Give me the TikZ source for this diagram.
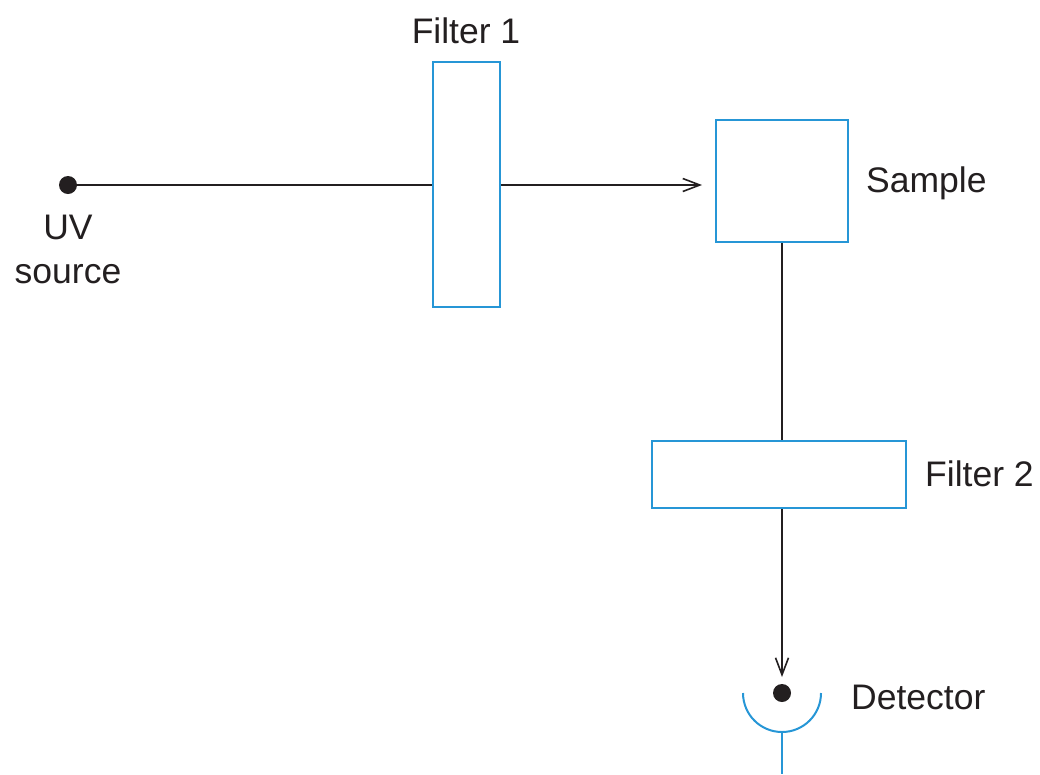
\documentclass[tikz,border=0pt]{standalone}
\usepackage{fontspec}
\setmainfont{Liberation Sans}
\usetikzlibrary{arrows.meta}
\definecolor{optblue}{RGB}{38,150,214}
\definecolor{ink}{RGB}{35,31,32}
\tikzset{
  beam/.style={draw=ink, line width=1.8pt},
  ray/.style={beam, -{Straight Barb[length=17pt,width=13pt,line width=1.6pt]}},
  optic/.style={draw=optblue, line width=2pt, fill=white, inner sep=0pt, rectangle},
  point/.style={circle, fill=ink, minimum size=18pt, inner sep=0pt},
  lbl/.style={inner sep=0pt, text=ink, font=\fontsize{35.5}{44}\selectfont}
}
\begin{document}
\begin{tikzpicture}[x=1pt,y=-1pt]
  \useasboundingbox (0,0) rectangle (1040,774);

  % light source and detector points
  \node[point] (src) at (68,185) {};
  \node[point] (det) at (782,693) {};

  % sample cell
  \node[optic, minimum width=132pt, minimum height=122pt] (sample) at (782,181) {};

  % beam paths (drawn first so the filters sit on top)
  \draw[ray, shorten >=13pt] (src) -- (src -| sample.west);
  \draw[ray, shorten >=16pt] (sample.south) -- (det.center);

  % filters
  \node[optic, minimum width=67pt, minimum height=245pt] (f1) at (466.5,184.5) {};
  \node[optic, minimum width=254pt, minimum height=67pt] (f2) at (779,474.5) {};

  % detector cup and lead
  \draw[draw=optblue, line width=2pt] (det.center) ++(-39,0)
        arc[start angle=180, end angle=0, radius=39];
  \coordinate (lead) at (782,774);
  \draw[draw=optblue, line width=2pt] ([yshift=-39pt]det.center) -- (lead);

  % labels
  \node[lbl, anchor=north, align=center] (srcl) at (68,215) {UV\\source};
  \node[lbl, anchor=base] (f1l) at (466,43) {Filter 1};
  \node[lbl, anchor=base west] (sl) at (866,192) {Sample};
  \node[lbl, anchor=base west] (f2l) at (925,486) {Filter 2};
  \node[lbl, anchor=base west] (dl) at (851,709) {Detector};
\end{tikzpicture}
\end{document}
